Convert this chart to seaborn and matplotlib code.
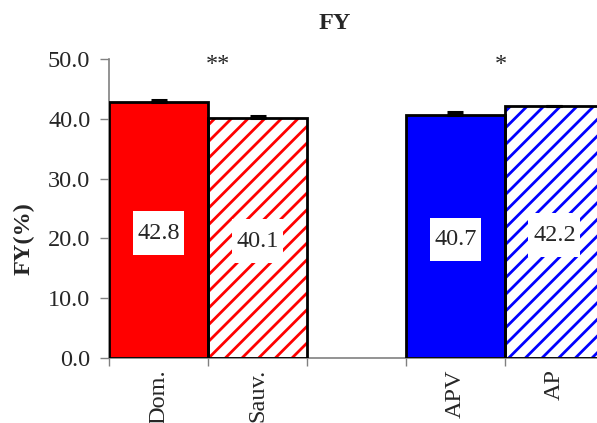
import numpy as np
import pandas as pd
import seaborn as sns
import matplotlib
matplotlib.use("Agg")
import matplotlib.pyplot as plt
from matplotlib.path import Path

# data
categories = ["Dom.", "Sauv.", "", "APV", "AP"]
bar_names = ["Dom.", "Sauv.", "APV", "AP"]
fy_values = [42.8, 40.1, 40.7, 42.2]
fy_errors = [0.3, 0.3, 0.4, 0.0]
bar_colors = ["#ff0000", "#ff0000", "#0000ff", "#0000ff"]
hatched = [False, True, False, True]
sig_marks = ["**", "*"]
sig_x = [0.6, 3.46]
sig_y = 48.2


def label_box(x0, y0, width, height, mutation_size):
    # white box, taller than wide padding (like the excel labels)
    padx = 0.19 * mutation_size
    pady = 0.47 * mutation_size
    x0, y0 = x0 - padx, y0 - pady
    x1, y1 = x0 + width + 2 * padx, y0 + height + 2 * pady
    return Path([(x0, y0), (x1, y0), (x1, y1), (x0, y1), (x0, y0)], closed=True)


sns.set_style("white")
plt.rcParams['font.family'] = ['Liberation Serif', 'DejaVu Serif']
plt.rcParams['hatch.linewidth'] = 2.0

df = pd.DataFrame({"group": bar_names, "FY": fy_values})
palette = dict(zip(bar_names, bar_colors))

fig = plt.figure(figsize=(5.97, 4.23), dpi=100)
ax = fig.add_axes([0.1826, 0.1537, 0.8291, 0.7069])

sns.barplot(data=df, x="group", y="FY", hue="group", order=categories,
            hue_order=bar_names, palette=palette, width=1.0, legend=False,
            errorbar=None, saturation=1, ax=ax)

# hatched bars: white face with coloured stripes
pos = [categories.index(n) for n in bar_names]
for p in ax.patches:
    i = int(round(p.get_x() + p.get_width() / 2))
    k = pos.index(i)
    p.set_linewidth(0)
    if hatched[k]:
        p.set_facecolor("white")
        p.set_edgecolor(bar_colors[k])
        p.set_hatch("//")

# black outline on top
ax.bar(pos, fy_values, width=1.0, fill=False, edgecolor="black", linewidth=2, zorder=3)

ax.errorbar(pos, fy_values, yerr=[np.zeros(len(fy_errors)), fy_errors], fmt="none",
            ecolor="black", elinewidth=1.5, capsize=5.5, capthick=2.2, zorder=4)

for x, v in zip(pos, fy_values):
    ax.text(x, v / 2 - 0.55, f"{v:.1f}", ha="center", va="center", fontsize=17.5, zorder=5,
            bbox=dict(facecolor="white", edgecolor="none", boxstyle=label_box))

for x, s in zip(sig_x, sig_marks):
    ax.text(x, sig_y, s, ha="center", va="baseline", fontsize=17.5)

ax.set_xlim(-0.5, len(categories) - 0.5)
ax.set_ylim(0, 50)
ax.set_yticks(np.arange(0, 51, 10))
ax.set_yticklabels([f"{t:.1f}" for t in np.arange(0, 51, 10)], fontsize=17.5)
ax.set_xticks(range(len(categories)))
ax.set_xticklabels(categories, rotation=90, fontsize=17.5)
ax.set_xticks(np.arange(-0.5, len(categories), 1.0), minor=True)
ax.tick_params(axis="x", which="major", length=0, pad=8)
ax.tick_params(axis="x", which="minor", length=6, width=1, color="#808080", direction="out")
ax.tick_params(axis="y", length=6.5, width=1, color="#808080", direction="out", pad=7)
ax.yaxis.set_ticks_position("left")
ax.xaxis.set_ticks_position("bottom")

for side in ["top", "right"]:
    ax.spines[side].set_visible(False)
for side in ["left", "bottom"]:
    ax.spines[side].set_color("#808080")
    ax.spines[side].set_linewidth(1.2)

ax.set_xlabel("")
ax.set_ylabel("FY(%)", fontsize=17.5, fontweight="bold")
ax.yaxis.set_label_coords(-0.15, 0.40)

fig.text(0.561, 0.945, "FY", ha="center", va="center", fontsize=17.5, fontweight="bold")

fig.savefig("out.png", dpi=100)
